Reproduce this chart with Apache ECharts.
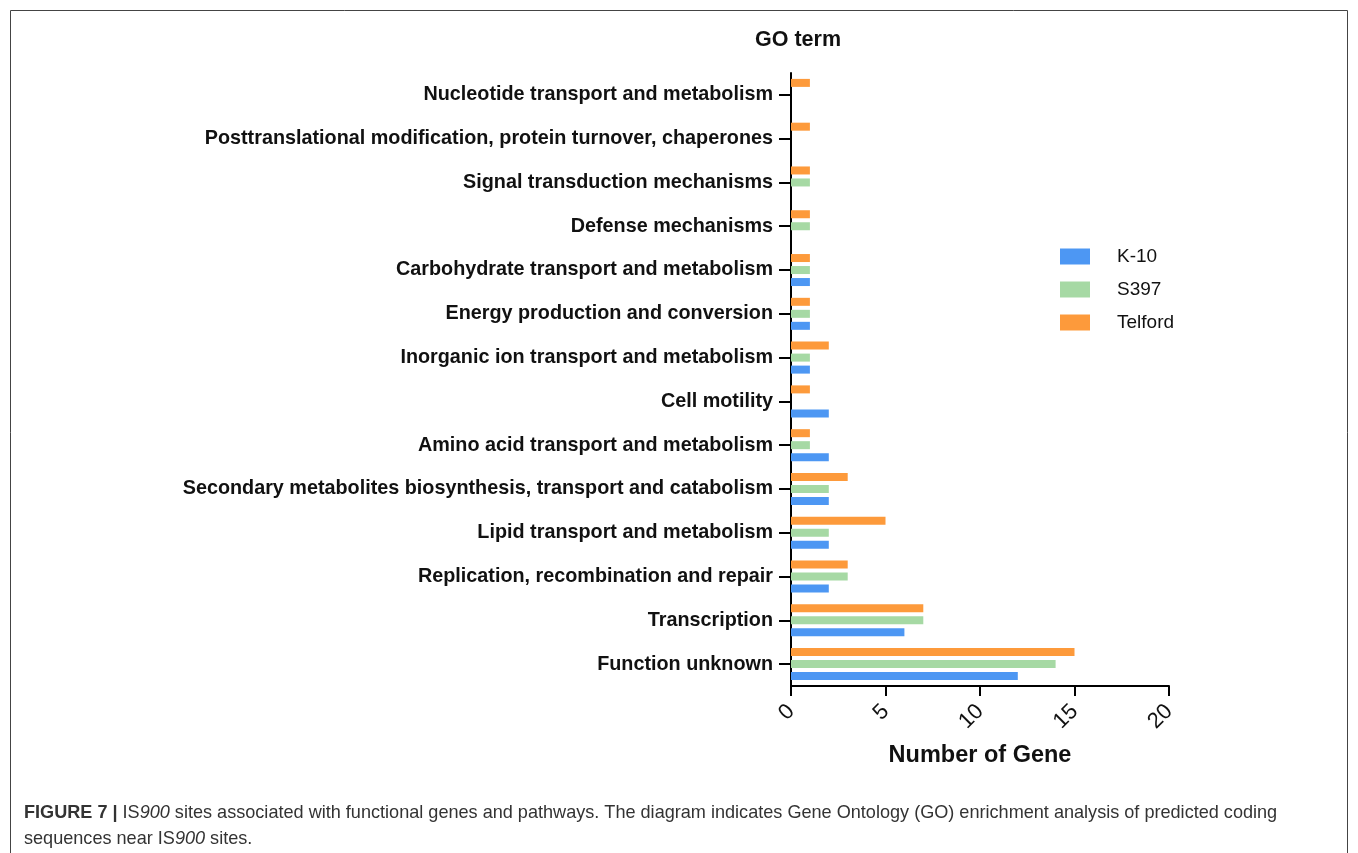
<!DOCTYPE html>
<html>
<head>
<meta charset="utf-8">
<script src="https://cdn.jsdelivr.net/npm/echarts@6/dist/echarts.min.js"></script>
<style>
  html, body { margin: 0; padding: 0; background: #fff; }
  #cht { width: 1358px; height: 853px; }
</style>
</head>
<body>
<div id="cht"></div>
<script>
// categories listed bottom -> top
var terms = [
    'Function unknown',
    'Transcription',
    'Replication, recombination and repair',
    'Lipid transport and metabolism',
    'Secondary metabolites biosynthesis, transport and catabolism',
    'Amino acid transport and metabolism',
    'Cell motility',
    'Inorganic ion transport and metabolism',
    'Energy production and conversion',
    'Carbohydrate transport and metabolism',
    'Defense mechanisms',
    'Signal transduction mechanisms',
    'Posttranslational modification, protein turnover, chaperones',
    'Nucleotide transport and metabolism'
];
var k10     = [12, 6, 2, 2, 2, 2, 2, 1, 1, 1, 0, 0, 0, 0];
var s397    = [14, 7, 3, 2, 2, 1, 0, 1, 1, 1, 1, 1, 0, 0];
var telford = [15, 7, 3, 5, 3, 1, 1, 2, 1, 1, 1, 1, 1, 1];
var seriesNames = ['K-10', 'S397', 'Telford'];
var xTicks = [0, 5, 10, 15, 20];

var colors = ['#4d97f3', '#a6d9a4', '#fd9a3b'];
var txtFont = '"Liberation Sans", Arial, sans-serif';

function barSeries(name, data, i) {
    return {
        name: name,
        type: 'bar',
        data: data,
        barWidth: 8,
        barGap: '50%',
        itemStyle: { color: colors[i] },
        animation: false
    };
}

var config = {
    animation: false,
    title: {
        text: 'GO term',
        left: 750,
        top: 24,
        textStyle: { fontFamily: txtFont, fontSize: 21.5, fontWeight: 'bold', color: '#111' }
    },
    legend: {
        orient: 'vertical',
        left: 1055,
        top: 242,
        icon: 'rect',
        itemWidth: 30,
        itemHeight: 16,
        itemGap: 14,
        data: seriesNames,
        textStyle: { fontFamily: txtFont, fontSize: 19, color: '#111', padding: [0, 0, 0, 22] }
    },
    grid: {
        left: 791,
        right: 189,
        top: 73,
        bottom: 167,
        containLabel: false
    },
    xAxis: {
        type: 'value',
        min: xTicks[0],
        max: xTicks[xTicks.length - 1],
        interval: 5,
        name: 'Number of Gene',
        nameLocation: 'middle',
        nameGap: 58,
        nameTextStyle: { fontFamily: txtFont, fontSize: 23.5, fontWeight: 'bold', color: '#111' },
        axisLine: { show: true, lineStyle: { color: '#000', width: 2 } },
        axisTick: { show: true, length: 10, lineStyle: { color: '#000', width: 2 } },
        axisLabel: { rotate: 45, fontFamily: txtFont, fontSize: 22, color: '#111', margin: 22 },
        splitLine: { show: false }
    },
    yAxis: {
        type: 'category',
        data: terms,
        axisLine: { show: true, lineStyle: { color: '#000', width: 2 } },
        axisTick: { show: true, alignWithLabel: true, length: 12, lineStyle: { color: '#000', width: 2 } },
        axisLabel: { fontFamily: txtFont, fontSize: 19.8, fontWeight: 'bold', color: '#111', margin: 18 }
    },
    graphic: [
        {
            type: 'rect',
            shape: { x: 10.5, y: 10.5, width: 1337, height: 900 },
            style: { fill: null, stroke: '#444', lineWidth: 1 },
            silent: true
        },
        {
            type: 'text',
            left: 24,
            top: 800,
            style: {
                text: '{b|FIGURE 7 |} IS{i|900} sites associated with functional genes and pathways. The diagram indicates Gene Ontology (GO) enrichment analysis of predicted coding\nsequences near IS{i|900} sites.',
                font: '18.1px ' + txtFont,
                fill: '#333',
                lineHeight: 26,
                rich: {
                    b: { fontWeight: 'bold', fontSize: 18.1, fill: '#333', fontFamily: txtFont },
                    i: { fontStyle: 'italic', fontSize: 18.1, fill: '#333', fontFamily: txtFont }
                }
            }
        }
    ],
    // drawn top -> bottom within each band: Telford, S397, K-10
    series: [
        barSeries(seriesNames[2], telford, 2),
        barSeries(seriesNames[1], s397, 1),
        barSeries(seriesNames[0], k10, 0)
    ]
};

window.onload = function() {
    var myChart = echarts.init(document.getElementById('cht'));
    myChart.setOption(config);
};
</script>
</body>
</html>
